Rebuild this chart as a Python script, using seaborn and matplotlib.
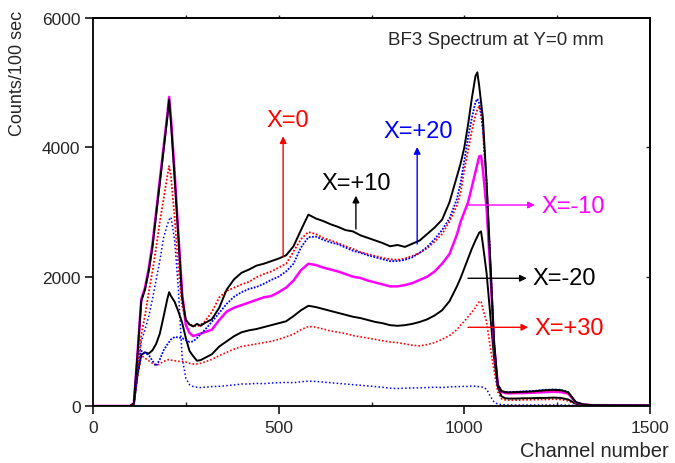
import numpy as np
import pandas as pd
import matplotlib
matplotlib.use("Agg")
import matplotlib.pyplot as plt
import seaborn as sns
from matplotlib.ticker import MultipleLocator

# ---------------- data ----------------
CHANNELS = [0, 100, 110, 120, 130, 140, 150, 160, 170, 180, 190, 200, 205, 210, 220, 230, 240, 250, 260, 270, 280, 290, 300,
            320, 340, 360, 380, 400, 420, 440, 460, 480, 500, 520, 540, 560, 580, 600, 620, 640, 660, 680, 700,
            720, 740, 760, 780, 800, 820, 840, 860, 880, 900, 920, 940, 960, 980,
            990, 1000, 1010, 1020, 1030, 1035, 1040, 1045, 1050, 1060, 1070, 1080, 1090, 1100, 1110,
            1120, 1140, 1160, 1180, 1200, 1220, 1240, 1260, 1280, 1300, 1320, 1350, 1500]

X_P10 = [0, 0, 40, 800, 1620, 1800, 2080, 2450, 2950, 3450, 3950, 4450, 4740, 4380, 3500, 2600, 1680, 1330, 1260, 1230, 1270, 1240, 1280,
         1340, 1520, 1800, 1960, 2060, 2110, 2170, 2200, 2240, 2280, 2330, 2470, 2720, 2960, 2900, 2860, 2810, 2770, 2720, 2700,
         2640, 2600, 2560, 2520, 2470, 2490, 2460, 2510, 2560, 2660, 2760, 2880, 3150, 3550,
         3750, 4000, 4350, 4750, 5100, 5160, 4950, 4700, 4450, 3450, 2250, 1000, 320, 230, 215,
         210, 215, 220, 225, 235, 245, 250, 245, 210, 60, 25, 12, 8]

X_M10 = [0, 0, 40, 820, 1650, 1830, 2120, 2500, 3000, 3500, 4000, 4500, 4780, 4450, 3600, 2650, 1750, 1250, 1130, 1080, 1100, 1120, 1140,
         1180, 1330, 1460, 1520, 1560, 1600, 1640, 1680, 1700, 1760, 1830, 1940, 2100, 2200, 2180, 2140, 2110, 2080, 2040, 2000,
         1980, 1940, 1910, 1880, 1850, 1850, 1870, 1900, 1950, 2000, 2080, 2200, 2350, 2650,
         2850, 3000, 3150, 3380, 3620, 3740, 3860, 3870, 3650, 3050, 2100, 950, 330, 220, 200,
         195, 200, 200, 205, 210, 215, 220, 215, 190, 55, 22, 10, 6]

X_0 = [0, 0, 30, 550, 1100, 1400, 1750, 2080, 2450, 2850, 3200, 3550, 3710, 3550, 2900, 2150, 1550, 1330, 1260, 1240, 1230, 1260, 1300,
       1450, 1680, 1780, 1830, 1880, 1920, 1990, 2040, 2080, 2140, 2200, 2390, 2580, 2690, 2660, 2600, 2560, 2520, 2470, 2430,
       2380, 2350, 2320, 2290, 2270, 2260, 2280, 2320, 2370, 2440, 2540, 2660, 2850, 3100,
       3300, 3650, 3950, 4250, 4500, 4580, 4640, 4500, 4250, 3450, 2200, 950, 330, 230, 210,
       205, 210, 215, 220, 225, 235, 240, 235, 200, 55, 22, 10, 6]

X_P20 = [0, 0, 30, 500, 850, 820, 790, 700, 620, 720, 860, 950, 990, 1030, 1067, 1060, 1050, 1020, 990, 1000, 1050, 1110, 1170,
         1300, 1440, 1580, 1690, 1760, 1810, 1840, 1890, 1950, 2000, 2080, 2200, 2450, 2610, 2620, 2570, 2530, 2500, 2450, 2400,
         2370, 2330, 2300, 2270, 2240, 2240, 2260, 2300, 2370, 2460, 2580, 2720, 2900, 3200,
         3450, 3800, 4150, 4450, 4700, 4750, 4680, 4550, 4300, 3450, 2200, 950, 330, 235, 215,
         215, 220, 225, 230, 240, 250, 255, 250, 215, 60, 22, 10, 6]

X_M20 = [0, 0, 30, 500, 790, 830, 810, 860, 960, 1120, 1380, 1650, 1760, 1700, 1610, 1460, 1290, 1050, 850, 770, 700, 710, 740,
         800, 920, 1000, 1080, 1140, 1170, 1190, 1220, 1250, 1280, 1310, 1390, 1480, 1550, 1530, 1500, 1470, 1440, 1410, 1380,
         1360, 1330, 1300, 1280, 1250, 1240, 1250, 1270, 1300, 1340, 1400, 1480, 1620, 1850,
         1980, 2130, 2280, 2430, 2560, 2620, 2680, 2700, 2500, 2050, 1400, 750, 300, 150, 120,
         115, 115, 120, 120, 125, 125, 130, 125, 100, 35, 15, 8, 5]

X_P30 = [0, 0, 30, 450, 780, 740, 700, 660, 625, 650, 690, 710, 720, 710, 700, 690, 690, 680, 660, 650, 650, 660, 680,
         720, 780, 830, 880, 920, 940, 960, 980, 1000, 1030, 1070, 1110, 1180, 1230, 1220, 1190, 1160, 1140, 1120, 1090,
         1070, 1050, 1030, 1010, 990, 980, 960, 940, 930, 950, 980, 1030, 1090, 1180,
         1250, 1310, 1380, 1450, 1520, 1570, 1610, 1620, 1500, 1300, 900, 550, 220, 110, 95,
         90, 90, 95, 95, 100, 100, 105, 100, 80, 30, 12, 6, 4]

LOW_BLUE = [0, 0, 30, 500, 1000, 1180, 1380, 1650, 1950, 2250, 2600, 2800, 2880, 2920, 2560, 1800, 750, 430, 330, 300, 290, 285, 290,
            300, 305, 315, 325, 340, 340, 350, 345, 355, 360, 365, 360, 375, 385, 380, 370, 360, 350, 340, 330,
            320, 310, 300, 290, 275, 270, 275, 280, 280, 285, 290, 285, 295, 300,
            300, 305, 300, 310, 305, 300, 300, 295, 290, 260, 150, 60, 30, 20, 18,
            15, 15, 15, 15, 15, 15, 15, 15, 12, 10, 8, 5, 4]

XTICKS = [0, 500, 1000, 1500]
YTICKS = [0, 2000, 4000, 6000]

for s in (X_P10, X_M10, X_0, X_P20, X_M20, X_P30, LOW_BLUE):
    assert len(s) == len(CHANNELS)

# ---------------- styling ----------------
sns.set_style("ticks")
plt.rcParams["font.family"] = ["Liberation Sans", "DejaVu Sans"]

fig = plt.figure(figsize=(6.75, 4.64), dpi=100)
ax = fig.add_axes([93 / 675, 57 / 464, 557 / 675, 388 / 464])

RED, BLUE, MAG, BLK = "#ff0000", "#0000ff", "#ff00ff", "#000000"

series = [
    (LOW_BLUE, BLUE, (0, (1, 1.5)), 1.1),
    (X_P30, RED, (0, (1, 1.2)), 1.2),
    (X_M20, BLK, "-", 1.4),
    (X_M10, MAG, "-", 1.8),
    (X_0, RED, (0, (1, 1.0)), 1.3),
    (X_P20, BLUE, (0, (1, 0.8)), 1.3),
    (X_P10, BLK, "-", 1.4),
]
for vals, col, ls, lw in series:
    df = pd.DataFrame({"channel": CHANNELS, "counts": vals})
    sns.lineplot(data=df, x="channel", y="counts", ax=ax, color=col,
                 linestyle=ls, linewidth=lw, estimator=None, sort=False)

ax.set_xlim(0, 1500)
ax.set_ylim(0, 6000)
ax.set_xticks(XTICKS)
ax.set_yticks(YTICKS)
ax.xaxis.set_minor_locator(MultipleLocator(250))
ax.set_xlabel("")
ax.set_ylabel("")

for sp in ax.spines.values():
    sp.set_linewidth(1.3)
    sp.set_color("black")
    sp.set_visible(True)

ax.tick_params(axis="x", which="major", direction="out", length=6, width=1.3,
               labelsize=12.5, pad=4, top=False)
ax.tick_params(axis="x", which="minor", direction="in", length=3, width=1.0, top=False)
ax.tick_params(axis="y", which="major", direction="out", length=6, width=1.3,
               labelsize=12.5, pad=3, right=False)

top = ax.secondary_xaxis("top")
top.set_xticks([250, 500, 750, 1000, 1250])
top.tick_params(direction="out", length=2, width=1.0, labeltop=False)
top.spines["top"].set_linewidth(1.3)
right = ax.secondary_yaxis("right")
right.set_yticks([2000, 4000])
right.tick_params(direction="in", length=3, width=1.0, labelright=False)
right.spines["right"].set_linewidth(1.3)

# axis labels
ax.text(-0.1356, 0.8595, "Counts/100 sec", transform=ax.transAxes, rotation=90,
        ha="center", va="center", fontsize=13)
ax.text(0.901, -0.1289, "Channel number", transform=ax.transAxes,
        ha="center", va="baseline", fontsize=14.5)

# title-like label inside
ax.text(795, 5598, "BF3 Spectrum at Y=0 mm", ha="left", va="baseline", fontsize=13.5)

# annotations with arrows
def arrow(tail, tip, col):
    ax.annotate("", xy=tip, xytext=tail,
                arrowprops=dict(arrowstyle="-|>", color=col, lw=1.0,
                                mutation_scale=10, shrinkA=0, shrinkB=0))

arrow((512, 2304), (512, 4171), RED)
ax.text(524, 4415, "X=0", color=RED, fontsize=17, ha="center", va="center")

arrow((708, 2737), (708, 3252), BLK)
ax.text(710, 3448, "X=+10", color=BLK, fontsize=17, ha="center", va="center")

arrow((873, 2505), (873, 4005), BLUE)
ax.text(875, 4260, "X=+20", color=BLUE, fontsize=17, ha="center", va="center")

arrow((1010, 3108), (1190, 3108), MAG)
ax.text(1208, 3093, "X=-10", color=MAG, fontsize=17, ha="left", va="center")

arrow((1010, 1975), (1168, 1975), BLK)
ax.text(1184, 1987, "X=-20", color=BLK, fontsize=17, ha="left", va="center")

arrow((1010, 1217), (1172, 1217), RED)
ax.text(1189, 1206, "X=+30", color=RED, fontsize=17, ha="left", va="center")

fig.savefig("out.png", dpi=100)
